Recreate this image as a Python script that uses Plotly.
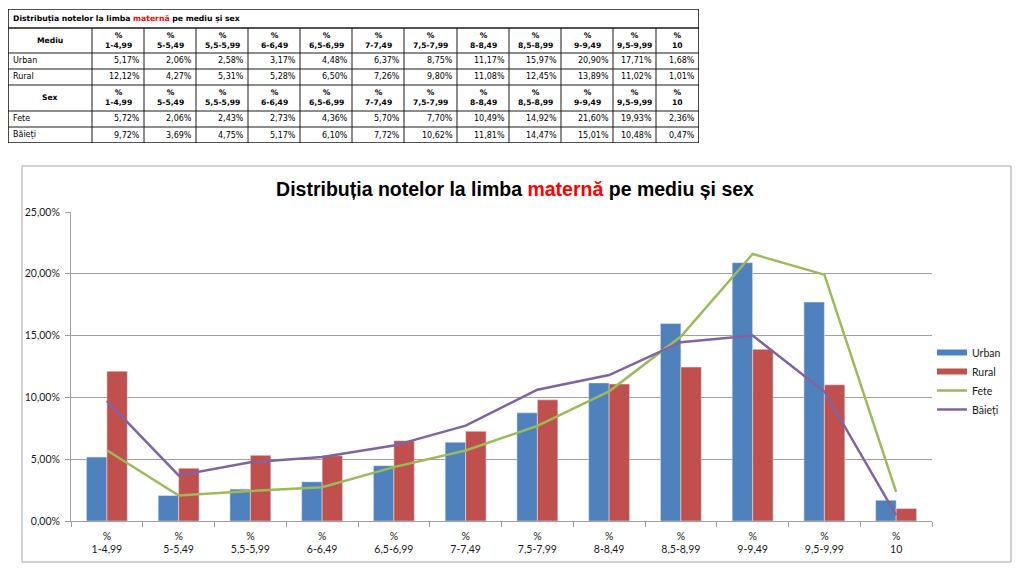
import plotly.graph_objects as go

# ---------------- data ----------------
categories = ["1-4,99", "5-5,49", "5,5-5,99", "6-6,49", "6,5-6,99", "7-7,49",
              "7,5-7,99", "8-8,49", "8,5-8,99", "9-9,49", "9,5-9,99", "10"]
urban = [5.17, 2.06, 2.58, 3.17, 4.48, 6.37, 8.75, 11.17, 15.97, 20.90, 17.71, 1.68]
rural = [12.12, 4.27, 5.31, 5.28, 6.50, 7.26, 9.80, 11.08, 12.45, 13.89, 11.02, 1.01]
fete = [5.72, 2.06, 2.43, 2.73, 4.36, 5.70, 7.70, 10.49, 14.92, 21.60, 19.93, 2.36]
baieti = [9.72, 3.69, 4.75, 5.17, 6.10, 7.72, 10.62, 11.81, 14.47, 15.01, 10.48, 0.47]
y_ticks = [0, 5, 10, 15, 20, 25]
tick_labels = ["%<br>" + c for c in categories]
title_text = "Distribuția notelor la limba <span style='color:#FF0000'>maternă</span> pe mediu și sex"


def fmt(v):
    return f"{v:.2f}".replace(".", ",") + "%"


y_tick_labels = [fmt(t) for t in y_ticks]

# ---------------- layout helpers ----------------
W, H = 1024, 577


def fx(x):
    return x / W


def fy(y):
    return 1 - y / H


BLUE, RED, GREEN, PURPLE = "#4F81BD", "#C0504D", "#9BBB59", "#8064A2"
GRAY = "#A0A0A0"
CHART_FONT = "Lato, Open Sans, sans-serif"
TABLE_FONT = "DejaVu Sans, Verdana, sans-serif"

fig = go.Figure()

# bars
fig.add_trace(go.Bar(x=categories, y=urban, name="Urban", marker_color=BLUE,
                     showlegend=False))
fig.add_trace(go.Bar(x=categories, y=rural, name="Rural", marker_color=RED,
                     showlegend=False))
# legend-only entries drawn as thick bars like the original legend keys
fig.add_trace(go.Scatter(x=[None], y=[None], mode="lines", name="Urban",
                         line=dict(color=BLUE, width=6), legendrank=1))
fig.add_trace(go.Scatter(x=[None], y=[None], mode="lines", name="Rural",
                         line=dict(color=RED, width=6), legendrank=2))
# lines
fig.add_trace(go.Scatter(x=categories, y=fete, mode="lines", name="Fete",
                         line=dict(color=GREEN, width=2.5), legendrank=3))
fig.add_trace(go.Scatter(x=categories, y=baieti, mode="lines", name="Băieți",
                         line=dict(color=PURPLE, width=2.5), legendrank=4))

# ---------------- table (on its own hidden axes) ----------------
col_widths = [84, 52, 52, 52, 52, 52, 52, 53, 52, 52, 52, 43, 43]
row_heights = [19, 25, 16, 16, 26, 16, 16]
col_edges = [0]
for w in col_widths:
    col_edges.append(col_edges[-1] + w)
row_edges = [0]
for h in row_heights:
    row_edges.append(row_edges[-1] + h)
TW, TH = col_edges[-1], row_edges[-1]

shapes = []
# horizontal lines
for i, ye in enumerate(row_edges):
    shapes.append(dict(type="line", xref="x2", yref="y2", x0=0, x1=TW, y0=ye, y1=ye,
                       line=dict(color="#1a1a1a",
                                 width=1.6 if i in (0, 1, len(row_edges) - 1) else 1)))
# vertical lines
for j, xe in enumerate(col_edges):
    outer = j in (0, len(col_edges) - 1)
    shapes.append(dict(type="line", xref="x2", yref="y2", x0=xe, x1=xe,
                       y0=0 if outer else row_edges[1], y1=TH,
                       line=dict(color="#1a1a1a", width=1.6 if outer else 1)))

annotations = []


def cell_ann(text, col, row, align, bold=False, size=8):
    y = (row_edges[row] + row_edges[row + 1]) / 2
    if align == "left":
        x, xa = col_edges[col] + 3, "left"
    elif align == "right":
        x, xa = col_edges[col + 1] - 2, "right"
    else:
        x, xa = (col_edges[col] + col_edges[col + 1]) / 2, "center"
    annotations.append(dict(xref="x2", yref="y2", x=x, y=y, xanchor=xa, yanchor="middle",
                            text=("<b>%s</b>" % text) if bold else text, showarrow=False,
                            align="center",
                            font=dict(family=TABLE_FONT, size=size, color="black")))


cell_ann(title_text, 0, 0, "left", bold=True, size=7.7)
for hdr_row, label in ((1, "Mediu"), (4, "Sex")):
    cell_ann(label, 0, hdr_row, "center", bold=True, size=7.6)
    for j, c in enumerate(categories):
        cell_ann("%<br>" + c, j + 1, hdr_row, "center", bold=True, size=7.6)
for row, label, vals in ((2, "Urban", urban), (3, "Rural", rural),
                         (5, "Fete", fete), (6, "Băieți", baieti)):
    cell_ann(label, 0, row, "left")
    for j, v in enumerate(vals):
        cell_ann(fmt(v), j + 1, row, "right")

# chart frame
shapes.append(dict(type="rect", xref="paper", yref="paper",
                   x0=fx(22), x1=fx(1011), y0=fy(562), y1=fy(166),
                   line=dict(color="#A6A6A6", width=1), layer="below"))

fig.update_layout(
    width=W, height=H, autosize=False,
    margin=dict(l=0, r=0, t=0, b=0, pad=0, autoexpand=False),
    paper_bgcolor="white", plot_bgcolor="white",
    separators=",.",
    barmode="group", bargap=0.43, bargroupgap=0,
    title=dict(text="<b>" + title_text + "</b>", x=fx(515), xanchor="center",
               y=fy(189), yanchor="middle", xref="paper", yref="paper",
               font=dict(family="Liberation Sans, Arial, sans-serif", size=19.5, color="black")),
    xaxis=dict(domain=[fx(71), fx(932)], type="category",
               tickmode="array", tickvals=categories, ticktext=tick_labels,
               showline=True, linecolor=GRAY, linewidth=1,
               ticks="outside", tickson="boundaries", ticklen=5, tickcolor=GRAY,
               ticklabelstandoff=5,
               showgrid=False, zeroline=False, anchor="y", automargin=False,
               tickfont=dict(family=CHART_FONT, size=10.5, color="#1a1a1a")),
    yaxis=dict(domain=[fy(521), fy(212)], range=[0, 25],
               tickmode="array", tickvals=y_ticks, ticktext=y_tick_labels,
               showline=True, linecolor=GRAY, linewidth=1,
               ticks="outside", ticklen=5, tickcolor=GRAY,
               ticklabelstandoff=3,
               showgrid=True, gridcolor=GRAY, gridwidth=1, zeroline=False, anchor="x",
               automargin=False,
               tickfont=dict(family=CHART_FONT, size=10.5, color="#1a1a1a")),
    xaxis2=dict(domain=[fx(8), fx(8 + TW)], range=[0, TW], visible=False,
                anchor="y2", fixedrange=True, automargin=False),
    yaxis2=dict(domain=[fy(9 + TH), fy(9)], range=[TH, 0], visible=False,
                anchor="x2", fixedrange=True, automargin=False),
    legend=dict(x=fx(932), y=fy(381), xanchor="left", yanchor="middle",
                font=dict(family=CHART_FONT, size=10.5, color="#1a1a1a"),
                itemwidth=30, tracegroupgap=0, bgcolor="rgba(0,0,0,0)"),
    shapes=shapes,
    annotations=annotations,
    showlegend=True,
)

fig.write_html("out.html", config={"displayModeBar": False},
               post_script="document.body.style.margin='0px';document.body.style.overflow='hidden';")
